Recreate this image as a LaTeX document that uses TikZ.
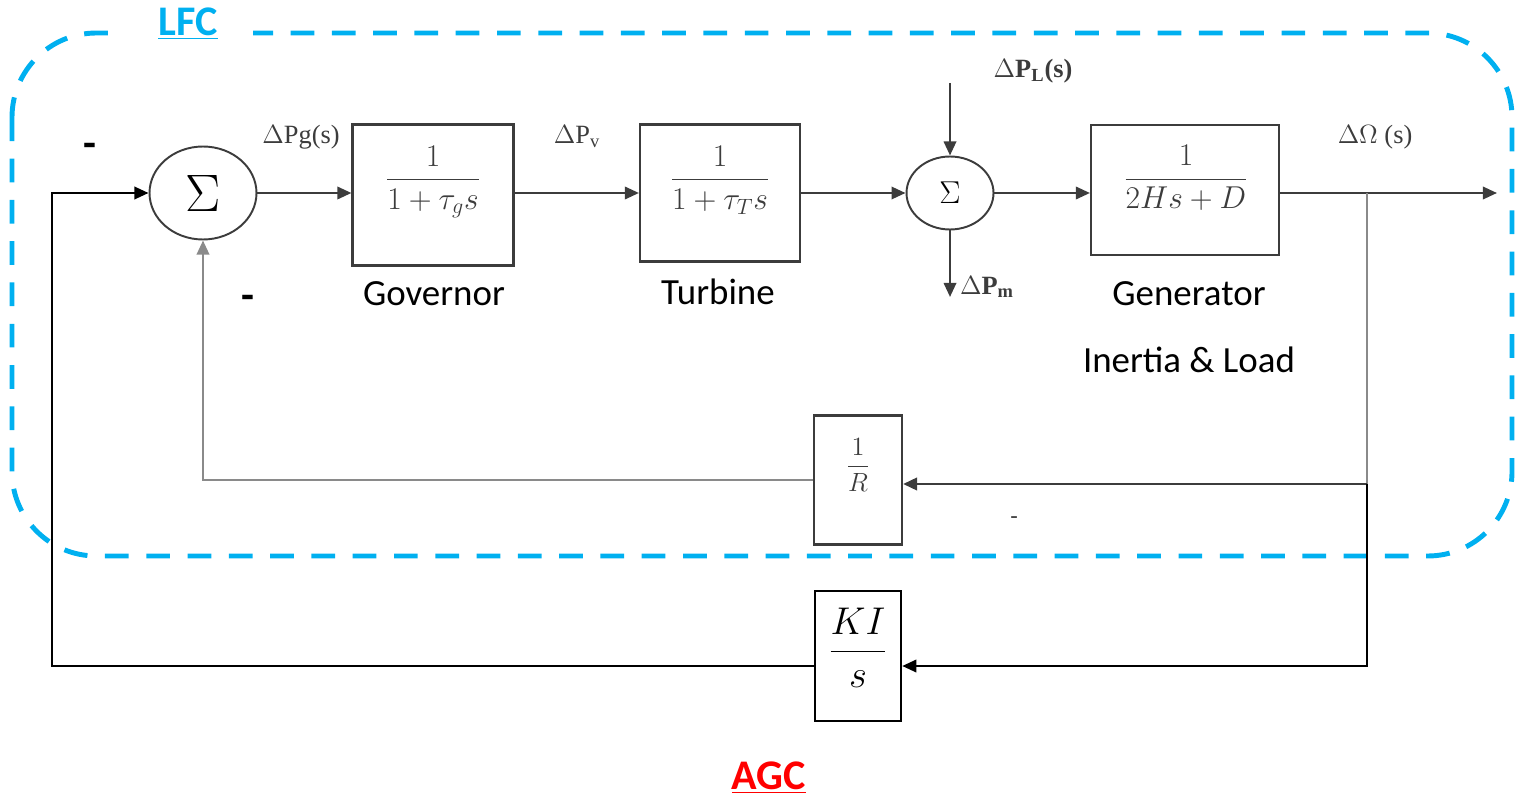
\documentclass[tikz,border=0pt]{standalone}
\usepackage{fix-cm}
\usepackage[no-math]{fontspec}
\setmainfont{Carlito}
\newfontfamily\tms{Liberation Serif}
\usetikzlibrary{arrows.meta,shapes.geometric}
\definecolor{lfc}{HTML}{00B0F0}
\definecolor{ln}{HTML}{3C3C3C}
\definecolor{lnlight}{HTML}{8A8A8A}
\definecolor{agcred}{HTML}{FF0000}
\tikzset{
  blockbox/.style={draw=ln, line width=1.2pt, inner sep=0pt},
  agcbox/.style={draw=black, line width=1.4pt, inner sep=0pt},
  sumnode/.style={ellipse, draw=ln, line width=1.1pt, inner sep=0pt},
  tip/.style={-{Triangle[length=8pt,width=7pt]}},
  con/.style={draw=ln, line width=1.4pt},
  agcline/.style={draw=black, line width=1.4pt},
  tflabel/.style={font=\fontsize{18}{22}\selectfont, text=ln},
  sig/.style={font=\tms\fontsize{15}{18}\selectfont, text=ln, inner sep=1pt},
  caption/.style={font=\fontsize{21}{25}\selectfont, text=black},
  minusmark/.style={font=\bfseries\fontsize{24}{26}\selectfont, text=black, inner sep=0pt},
  title/.style={font=\bfseries\fontsize{24}{28}\selectfont, inner sep=0pt},
  lfcbox/.style={draw=lfc, line width=2.8pt, dash pattern=on 13.5pt off 10pt, rounded corners=48pt}
}
\begin{document}
\begin{tikzpicture}[x=0.02cm,y=-0.02cm]
\useasboundingbox (0,0) rectangle (1523,800);

% LFC dashed frame
\draw[lfcbox] (12,33) rectangle (1512,556);
\node[title, text=lfc, fill=white, inner xsep=20pt, inner ysep=4pt] (lfc) at (188,24) {\underline{LFC}};
\node[title, text=agcred] (agc) at (769,778) {\underline{AGC}};

% main row
\node[sumnode, minimum width=2.14cm, minimum height=1.86cm] (sum1) at (203,193) {\fontsize{30}{32}\selectfont$\Sigma$};
\node[blockbox, minimum width=3.22cm, minimum height=2.82cm] (gov) at (433,195) {};
\node[tflabel] (govtf) at (433,182) {$\displaystyle\frac{1}{1+\tau_g s}$};
\node[blockbox, minimum width=3.2cm, minimum height=2.74cm] (turb) at (720,193) {};
\node[tflabel] (turbtf) at (720,180) {$\displaystyle\frac{1}{1+\tau_T s}$};
\node[sumnode, minimum width=1.74cm, minimum height=1.46cm] (sum2) at (950,193) {\fontsize{18}{20}\selectfont$\Sigma$};
\node[blockbox, minimum width=3.76cm, minimum height=2.6cm] (gen) at (1185,190) {};
\node[tflabel] (gentf) at (1186,178) {$\displaystyle\frac{1}{2Hs+D}$};

% feedback blocks
\node[blockbox, minimum width=1.76cm, minimum height=2.58cm] (R) at (858,480) {};
\node[tflabel, font=\fontsize{15}{18}\selectfont] (Rtf) at (858,465) {$\displaystyle\frac{1}{R}$};
\node[agcbox, minimum width=1.72cm, minimum height=2.6cm] (KI) at (858,656) {};
\node[font=\fontsize{22}{26}\selectfont] (KItf) at (858,648) {$\displaystyle\frac{KI}{s}$};

% coordinates
\coordinate (out) at (1497,193);
\coordinate (br) at (1367,193);
\coordinate (lft) at (52,193);
\coordinate (pl) at (950,83);
\coordinate (pm) at (950,297);
\coordinate (ryr) at (1367,484);
\coordinate (kiy) at (1367,666);

% main path
\draw[con,tip] (sum1.east) -- (gov.west |- sum1.east);
\draw[con,tip] (gov.east |- sum1.east) -- (turb.west |- sum1.east);
\draw[con,tip] (turb.east |- sum1.east) -- (sum2.west);
\draw[con,tip] (sum2.east) -- (gen.west |- sum2.east);
\draw[con,tip] (gen.east |- sum2.east) -- (out);
\draw[con,tip] (pl) -- (sum2.north);
\draw[con,tip] (sum2.south) -- (pm);

% primary feedback
\draw[con,draw=lnlight] (br) -- (ryr);
\draw[con,tip,line width=1.7pt] (ryr) -- (R.east |- ryr);
\draw[con,tip,draw=lnlight] (R.west) -| (sum1.south);

% AGC loop
\draw[agcline,tip] (ryr) -- (kiy) -- (KI.east |- kiy);
\draw[agcline,tip] (KI.west |- kiy) -| (lft) -- (sum1.west);

% signal labels
\node[sig] (pg) at (301,137) {$\Delta$Pg(s)};
\node[sig] (pv) at (577,137) {$\Delta$P\textsubscript{v}};
\node[sig, font=\tms\bfseries\fontsize{15}{18}\selectfont] (plab) at (1033,71) {$\Delta$P\textsubscript{L}(s)};
\node[sig, font=\tms\bfseries\fontsize{15}{18}\selectfont] (pmlab) at (987,287) {$\Delta$P\textsubscript{m}};
\node[sig] (om) at (1375,137) {$\Delta\Omega$ (s)};

% captions
\node[caption] (govc) at (434,294) {Governor};
\node[caption] (turbc) at (718,292) {Turbine};
\node[caption] (genc) at (1189,294) {Generator};
\node[caption] (inl) at (1189,360) {Inertia \& Load};

% minus signs
\node[minusmark] (m1) at (90,150) {-};
\node[minusmark] (m2) at (248,302) {-};
\node[minusmark, font=\fontsize{14}{16}\selectfont, text=ln] (m3) at (1014,521) {-};
\end{tikzpicture}
\end{document}
